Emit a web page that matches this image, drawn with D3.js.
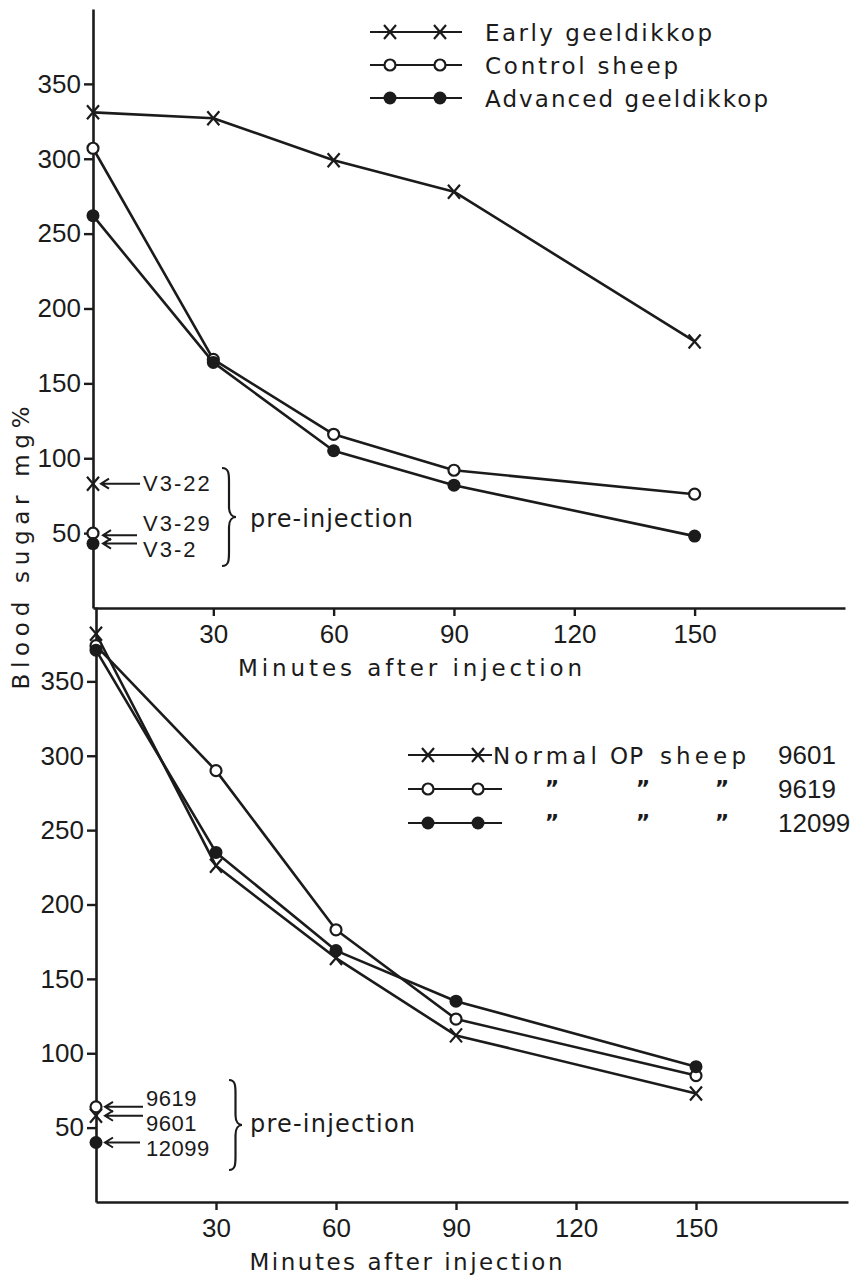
<!DOCTYPE html>
<html><head><meta charset="utf-8">
<script src="https://cdn.jsdelivr.net/npm/d3@7"></script>
<style>body{margin:0;background:#fff}</style>
</head><body><svg id="c" width="855" height="1280"></svg>
<script>
// ---- data ----
const minutes = [0, 30, 60, 90, 150];
const earlyGeeldikkop = [331, 327, 299, 278, 178];
const controlSheep = [307, 166, 116, 92, 76];
const advancedGeeldikkop = [262, 164, 105, 82, 48];
const topSeriesNames = ["Early geeldikkop", "Control sheep", "Advanced geeldikkop"];
const preTopLabels = ["V3-22", "V3-29", "V3-2"];
const preTopValues = [83, 50, 43];

const normal9601 = [382, 226, 164, 112, 73];
const sheep9619 = [374, 290, 183, 123, 85];
const sheep12099 = [371, 235, 169, 135, 91];
const bottomSeriesIds = ["9601", "9619", "12099"];
const preBottomLabels = ["9619", "9601", "12099"];
const preBottomValues = [64, 58, 40];

const yTicks = [50, 100, 150, 200, 250, 300, 350];
const xTicks = [30, 60, 90, 120, 150];
const xTitle = "Minutes  after  injection";
const yTitle = "Blood  sugar  mg%";

// ---- setup ----
const INK = "#1b1b1b";
const svg = d3.select("#c");
const WORD = "DejaVu Sans, sans-serif";
const NUM = "Liberation Sans, Arial, sans-serif";

const xT = d3.scaleLinear().domain([0, 187.5]).range([93, 845]);
const yT = d3.scaleLinear().domain([0, 400]).range([608, 9]);
const xB = d3.scaleLinear().domain([0, 188]).range([96, 848]);
const yB = d3.scaleLinear().domain([0, 400]).range([1202, 607]);

function marker(g, type, cx, cy) {
  if (type === "x") {
    g.append("path").attr("d", `M${cx-6},${cy-7}L${cx+6},${cy+7}M${cx-6},${cy+7}L${cx+6},${cy-7}`)
      .attr("stroke", INK).attr("stroke-width", 2.2).attr("fill", "none");
  } else if (type === "o") {
    g.append("circle").attr("cx", cx).attr("cy", cy).attr("r", 5.5)
      .attr("fill", "#fff").attr("stroke", INK).attr("stroke-width", 2.2);
  } else {
    g.append("circle").attr("cx", cx).attr("cy", cy).attr("r", 6.5).attr("fill", INK);
  }
}

function axes(x, y, x0, y0, titleX, titleY, titleLen) {
  const gy = svg.append("g").attr("transform", `translate(${x0},0)`)
    .call(d3.axisLeft(y).tickValues(yTicks).tickSize(9).tickPadding(3).tickSizeOuter(0));
  const gx = svg.append("g").attr("transform", `translate(0,${y0})`)
    .call(d3.axisBottom(x).tickValues(xTicks).tickSize(8).tickPadding(9).tickSizeOuter(0));
  [gx, gy].forEach(g => {
    g.select(".domain").attr("stroke", INK).attr("stroke-width", 2.6);
    g.selectAll(".tick line").attr("stroke", INK).attr("stroke-width", 2.4);
    g.selectAll(".tick text").attr("fill", INK).attr("font-family", NUM).attr("font-size", 26);
  });
  svg.append("text").attr("x", titleX).attr("y", titleY).attr("text-anchor", "middle")
    .attr("font-family", WORD).attr("font-size", 23).attr("fill", INK)
    .attr("textLength", titleLen).attr("lengthAdjust", "spacing").text(xTitle);
}

function series(x, y, vals, type) {
  const pts = minutes.map((m, i) => [x(m), y(vals[i])]);
  svg.append("path").attr("d", d3.line()(pts)).attr("fill", "none")
    .attr("stroke", INK).attr("stroke-width", 2.6).attr("stroke-linejoin", "round");
  const g = svg.append("g");
  pts.forEach(p => marker(g, type, p[0], p[1]));
}

function arrow(xTip, xEnd, yy) {
  svg.append("path").attr("d", `M${xTip+8},${yy-5}L${xTip},${yy}L${xTip+8},${yy+5}M${xTip},${yy}L${xEnd},${yy}`)
    .attr("fill", "none").attr("stroke", INK).attr("stroke-width", 2);
}

function brace(x0, w, y0, y1) {
  const ym = (y0 + y1) / 2, xm = x0 + w * 0.5;
  const d = `M${x0},${y0}C${x0+w*0.5},${y0} ${xm},${y0+6} ${xm},${y0+14}L${xm},${ym-10}` +
    `C${xm},${ym-3} ${x0+w*0.75},${ym} ${x0+w},${ym}C${x0+w*0.75},${ym} ${xm},${ym+3} ${xm},${ym+10}` +
    `L${xm},${y1-14}C${xm},${y1-6} ${x0+w*0.5},${y1} ${x0},${y1}`;
  svg.append("path").attr("d", d).attr("fill", "none").attr("stroke", INK).attr("stroke-width", 2.2);
}

// ---- top chart ----
axes(xT, yT, 93, 608, 410, 676, 344);
series(xT, yT, earlyGeeldikkop, "x");
series(xT, yT, controlSheep, "o");
series(xT, yT, advancedGeeldikkop, "d");

// top legend
const topTypes = ["x", "o", "d"];
const topLegY = [32, 65, 98];
const topLegLen = [227, 193, 283];
topSeriesNames.forEach((n, i) => {
  const yy = topLegY[i];
  svg.append("line").attr("x1", 370).attr("x2", 462).attr("y1", yy).attr("y2", yy)
    .attr("stroke", INK).attr("stroke-width", 2.2);
  const g = svg.append("g");
  marker(g, topTypes[i], 390, yy); marker(g, topTypes[i], 440, yy);
  svg.append("text").attr("x", 485).attr("y", yy + 9).attr("font-family", WORD).attr("font-size", 23)
    .attr("fill", INK).attr("textLength", topLegLen[i]).attr("lengthAdjust", "spacing")
    .text(n.replace(" ", "  "));
});

// top pre-injection
{
  const g = svg.append("g");
  preTopValues.forEach((v, i) => marker(g, topTypes[i], xT(0), yT(v)));
  arrow(101, 140, yT(preTopValues[0]));
  arrow(103, 137, yT(preTopValues[1]) + 2);
  arrow(103, 137, yT(preTopValues[2]));
  const ty = [491, 531, 557];
  preTopLabels.forEach((l, i) => svg.append("text").attr("x", 143).attr("y", ty[i])
    .attr("font-family", NUM).attr("font-size", 22).attr("fill", INK).attr("letter-spacing", 2).text(l));
  brace(222, 14, 468, 566);
  svg.append("text").attr("x", 250).attr("y", 527).attr("font-family", WORD).attr("font-size", 24)
    .attr("fill", INK).attr("textLength", 163).attr("lengthAdjust", "spacing").text("pre-injection");
}

// ---- bottom chart ----
axes(xB, yB, 96, 1202, 406, 1270, 313);
series(xB, yB, normal9601, "x");
series(xB, yB, sheep9619, "o");
series(xB, yB, sheep12099, "d");

// bottom legend
const botTypes = ["x", "o", "d"];
const botLegY = [755, 789, 823];
bottomSeriesIds.forEach((id, i) => {
  const yy = botLegY[i];
  svg.append("line").attr("x1", 408).attr("x2", i === 0 ? 492 : 502).attr("y1", yy).attr("y2", yy)
    .attr("stroke", INK).attr("stroke-width", 2.2);
  const g = svg.append("g");
  marker(g, botTypes[i], 428, yy); marker(g, botTypes[i], 478, yy);
  svg.append("text").attr("x", 778).attr("y", yy + 9).attr("font-family", NUM).attr("font-size", 26)
    .attr("fill", INK).text(id);
  if (i === 0) {
    [["Normal", 493, 104], ["OP", 610, 33], ["sheep", 660, 86]].forEach(([t, x, L]) =>
      svg.append("text").attr("x", x).attr("y", yy + 9).attr("font-family", WORD).attr("font-size", 23)
        .attr("fill", INK).attr("textLength", L).attr("lengthAdjust", "spacing").text(t));
  } else {
    [552, 643, 722].forEach(x =>
      svg.append("text").attr("x", x).attr("y", yy + 7).attr("text-anchor", "middle")
        .attr("font-family", WORD).attr("font-size", 22).attr("font-weight", "bold")
        .attr("fill", INK).text("\u201D"));
  }
});

// bottom pre-injection
{
  const g = svg.append("g");
  const types = ["o", "x", "d"];
  preBottomValues.forEach((v, i) => marker(g, types[i], xB(0), yB(v)));
  arrow(105, 143, yB(preBottomValues[0]));
  arrow(105, 143, yB(preBottomValues[1]));
  arrow(105, 140, yB(preBottomValues[2]));
  const ty = [1106, 1131, 1156];
  preBottomLabels.forEach((l, i) => svg.append("text").attr("x", 146).attr("y", ty[i])
    .attr("font-family", NUM).attr("font-size", 22).attr("fill", INK).attr("letter-spacing", 0.5).text(l));
  brace(229, 13, 1080, 1170);
  svg.append("text").attr("x", 250).attr("y", 1132).attr("font-family", WORD).attr("font-size", 24)
    .attr("fill", INK).attr("textLength", 165).attr("lengthAdjust", "spacing").text("pre-injection");
}

// y title
svg.append("text").attr("transform", "translate(29,548) rotate(-90)").attr("text-anchor", "middle")
  .attr("font-family", WORD).attr("font-size", 23).attr("fill", INK)
  .attr("textLength", 283).attr("lengthAdjust", "spacing").text(yTitle);
</script></body></html>
